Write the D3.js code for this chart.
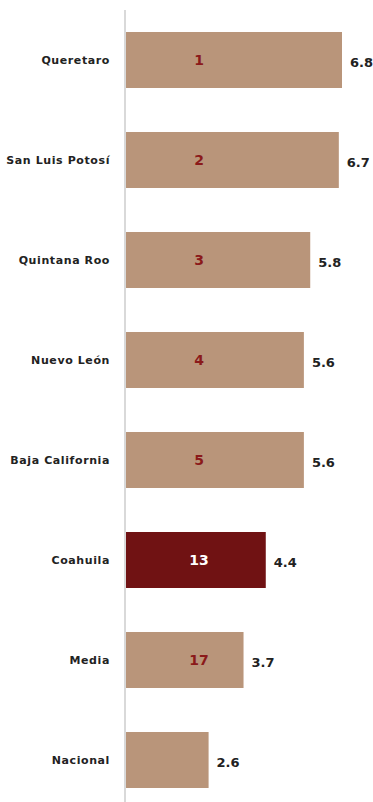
<!DOCTYPE html>
<html>
<head>
<meta charset="utf-8">
<script src="https://cdn.jsdelivr.net/npm/d3@7"></script>
<style>
  body{margin:0;background:#fff;}
  text{font-family:"DejaVu Sans",Verdana,sans-serif;font-weight:bold;}
</style>
</head>
<body>
<svg id="chart" width="373" height="802"></svg>
<script>
const states = ["Queretaro","San Luis Potosí","Quintana Roo","Nuevo León","Baja California","Coahuila","Media","Nacional"];
const values = [6.8, 6.7, 5.8, 5.6, 5.6, 4.4, 3.7, 2.6];
const ranks = ["1","2","3","4","5","13","17",""];
const highlight = "Coahuila";

const W=373, H=802;
const svg = d3.select("#chart");

const x = d3.scaleLinear().domain([0,6.8]).range([126,342]);
const y = d3.scaleBand().domain(states).range([10,810])
  .paddingInner(0.44).paddingOuter(0.22);

// axis line
svg.append("line")
  .attr("x1",125).attr("x2",125)
  .attr("y1",10).attr("y2",H)
  .attr("stroke","#d9d9d9").attr("stroke-width",2);

const rows = states.map((s,i)=>({name:s,value:values[i],rank:ranks[i]}));

const g = svg.selectAll(".row").data(rows).enter().append("g").attr("class","row");

g.append("rect")
  .attr("x",x(0)).attr("y",d=>y(d.name))
  .attr("width",d=>x(d.value)-x(0)).attr("height",y.bandwidth())
  .attr("fill",d=>d.name===highlight?"#701213":"#b9957a");

// category labels
g.append("text")
  .attr("x",110).attr("y",d=>y(d.name)+y.bandwidth()/2)
  .attr("dy","0.35em").attr("text-anchor","end")
  .attr("font-size",11).attr("letter-spacing",0.6).attr("fill","#222")
  .text(d=>d.name);

// value labels
g.append("text")
  .attr("x",d=>x(d.value)+8).attr("y",d=>y(d.name)+y.bandwidth()/2+2)
  .attr("dy","0.35em")
  .attr("font-size",13).attr("fill","#222")
  .text(d=>d.value.toFixed(1));

// rank labels
g.append("text")
  .attr("x",x(2.3)).attr("y",d=>y(d.name)+y.bandwidth()/2)
  .attr("dy","0.35em").attr("text-anchor","middle")
  .attr("font-size",14)
  .attr("fill",d=>d.name===highlight?"#fff":"#8b1a1a")
  .text(d=>d.rank);
</script>
</body>
</html>
